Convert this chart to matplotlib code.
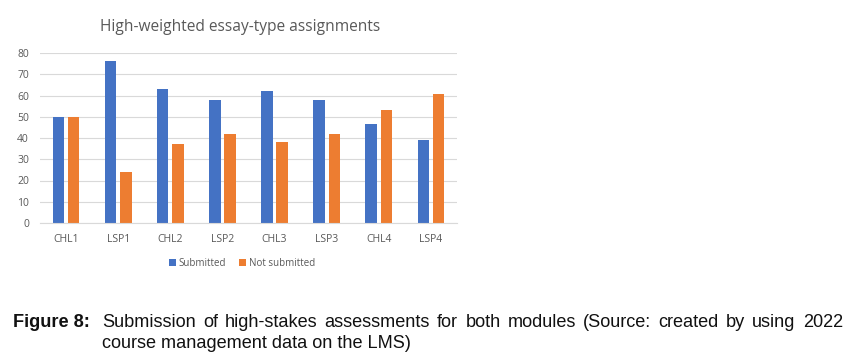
import numpy as np
import matplotlib
matplotlib.use("Agg")
from matplotlib import pyplot as plt

categories = ["CHL1", "LSP1", "CHL2", "LSP2", "CHL3", "LSP3", "CHL4", "LSP4"]
submitted = [50, 76.2, 63, 58, 62, 58, 46.7, 39.2]
not_submitted = [50, 23.8, 37, 42, 38, 42, 53.3, 60.8]

W, H = 853, 363
fig = plt.figure(figsize=(W / 100, H / 100), dpi=100)
fig.patch.set_facecolor("white")

# axes box in pixels: left 40, right 457, bottom (y=0) 223, top (y=80) 53
ax = fig.add_axes([40 / W, 1 - 223 / H, (457 - 40) / W, (223 - 53) / H])

x = np.arange(len(categories))
bw = 0.22
ax.bar(x - 0.146, submitted, bw, color="#4472C4", label="Submitted")
ax.bar(x + 0.146, not_submitted, bw, color="#ED7D31", label="Not submitted")

ax.set_xlim(-0.5, len(categories) - 0.5)
ax.set_ylim(0, 80)
ax.set_yticks(range(0, 81, 10))
ax.set_xticks(x)
ax.set_xticklabels(categories)
ax.yaxis.grid(True, color="#D9D9D9", linewidth=0.8)
ax.set_axisbelow(True)
for s in ["top", "right", "left"]:
    ax.spines[s].set_visible(False)
ax.spines["bottom"].set_color("#D9D9D9")
ax.tick_params(length=0, labelsize=7.5, labelcolor="#595959", pad=8)
for lab in ax.get_xticklabels() + ax.get_yticklabels():
    lab.set_family("Open Sans")
ax.tick_params(axis="y", pad=8)

fig.text(240 / W, 1 - 27 / H, "High-weighted essay-type assignments",
         ha="center", va="center", fontsize=11.2, color="#595959", family="Open Sans")

ax.legend(loc="center", bbox_to_anchor=(242 / W, 1 - 263 / H), bbox_transform=fig.transFigure,
          ncol=2, frameon=False, handlelength=0.7, handleheight=0.7, columnspacing=1.3,
          handletextpad=0.3, prop={"family": "Open Sans", "size": 7}, labelcolor="#595959")

# caption, first line justified between x=102 and x=843
cap_size = 13.1
fig.text(13 / W, 1 - 327 / H, "Figure 8:", ha="left", va="baseline", fontsize=cap_size,
         weight="bold", family="Liberation Sans", color="#111111")
line1 = "Submission of high-stakes assessments for both modules (Source: created by using 2022"
words = line1.split()
renderer = fig.canvas.get_renderer()
items = [fig.text(0, 1 - 327 / H, w, ha="left", va="baseline", fontsize=cap_size,
                  family="Liberation Sans", color="#111111") for w in words]
widths = [t.get_window_extent(renderer).width for t in items]
gap = (843 - 102 - sum(widths)) / (len(words) - 1)
pos = 102
for t, w in zip(items, widths):
    t.set_x(pos / W)
    pos += w + gap
fig.text(102 / W, 1 - 348 / H, "course management data on the LMS)",
         ha="left", va="baseline", fontsize=cap_size, family="Liberation Sans", color="#111111")

fig.savefig("out.png", dpi=100)
